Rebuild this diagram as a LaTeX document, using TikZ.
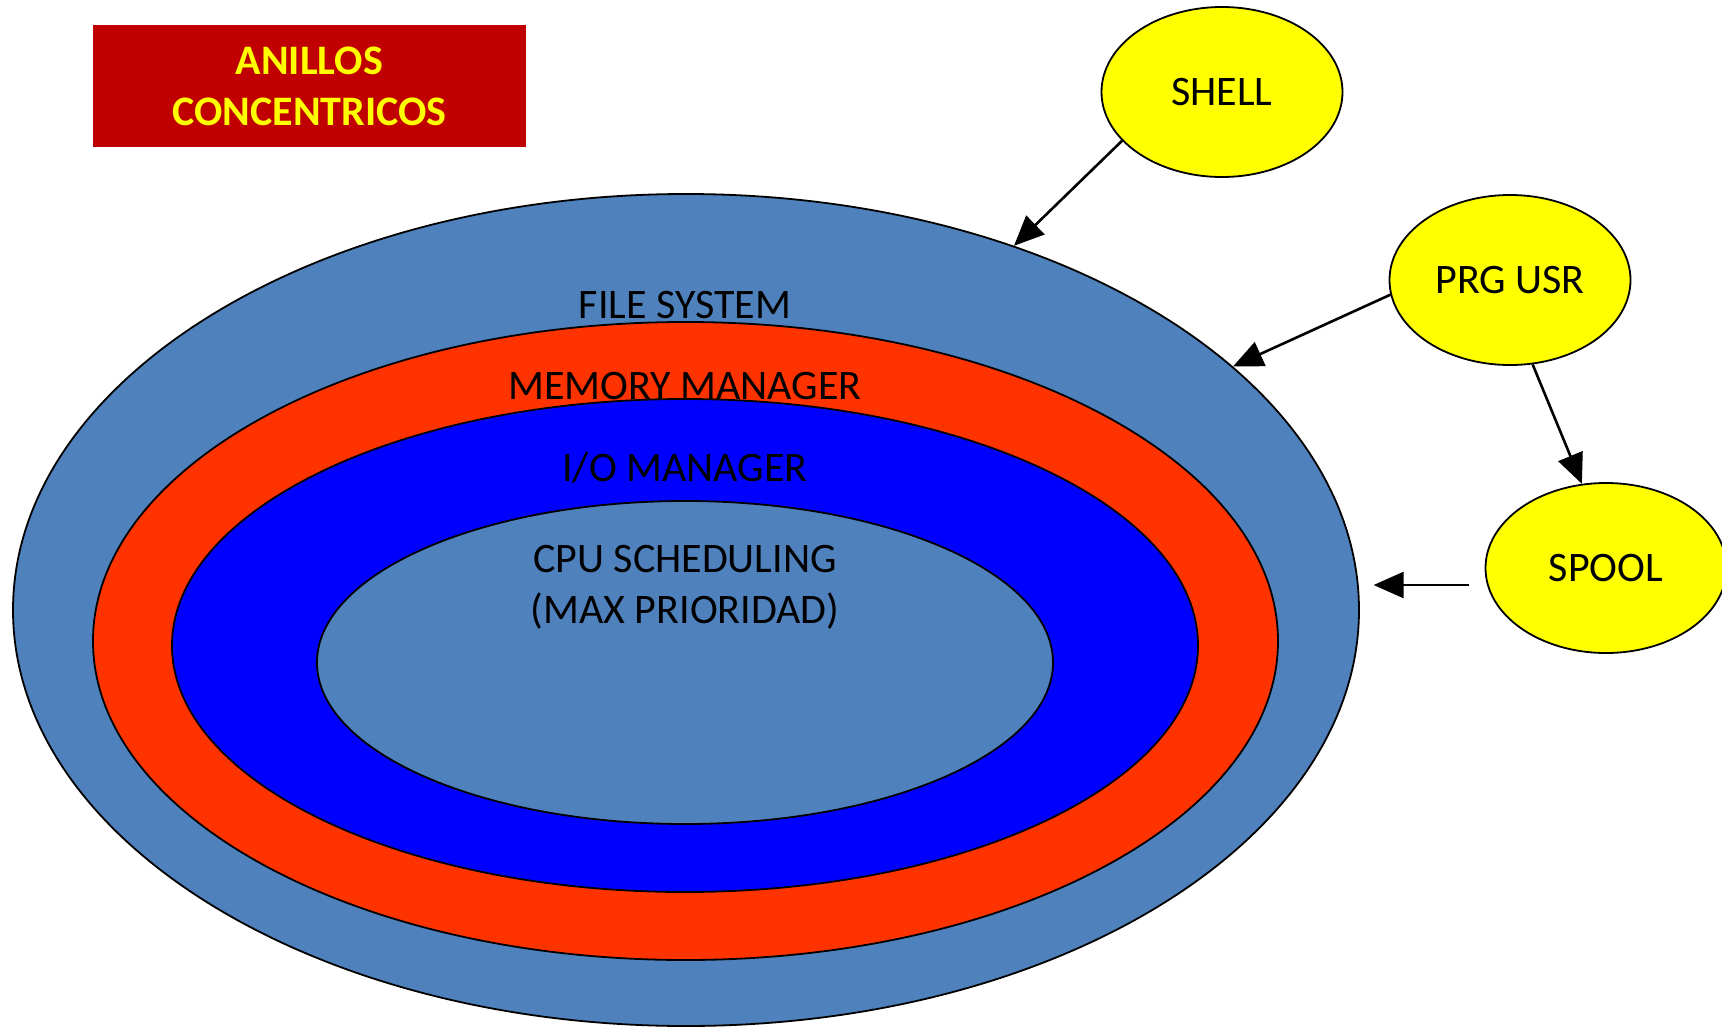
\documentclass[tikz,border=0pt]{standalone}
\usepackage{fontspec}
\setmainfont{Carlito}
\usetikzlibrary{shapes.geometric,arrows.meta}
\definecolor{steel}{HTML}{4F81BD}
\definecolor{ringred}{HTML}{FF3300}
\definecolor{ringblue}{HTML}{0000FF}
\definecolor{yel}{HTML}{FFFF00}
\definecolor{darkred}{HTML}{C00000}
\tikzset{
  ring/.style={ellipse, draw=black, line width=1.8pt, inner sep=0pt},
  bubble/.style={ellipse, draw=black, fill=yel, line width=1.8pt, inner sep=0pt,
    minimum width=241pt, minimum height=170pt, font=\fontsize{42pt}{51pt}\selectfont},
  lbl/.style={font=\fontsize{42pt}{51pt}\selectfont, inner sep=0pt, align=center},
  conn/.style={line width=2.6pt, -{Triangle[length=30pt,width=26pt]}},
}
\begin{document}
\begin{tikzpicture}[x=1pt,y=-1pt]
\useasboundingbox (0,0) rectangle (1722,1026);
% title
\node[fill=darkred, minimum width=433pt, minimum height=122pt, inner sep=0pt,
  text=yel, font=\fontsize{42pt}{51pt}\selectfont\bfseries, align=center]
  (title) at (309.5,86) {ANILLOS\\CONCENTRICOS};
% rings
\node[ring, fill=steel, minimum width=1346pt, minimum height=832pt] (fs) at (686,610) {};
\node[ring, fill=ringred, minimum width=1185pt, minimum height=638pt] (mm) at (685.5,641) {};
\node[ring, fill=ringblue, minimum width=1026pt, minimum height=493pt] (io) at (685,645.5) {};
\node[ring, fill=steel, minimum width=736pt, minimum height=323pt] (cpu) at (685,662.5) {};
% ring labels
\node[lbl] (tfs) at (685,305) {FILE SYSTEM};
\node[lbl] (tmm) at (685,386) {MEMORY MANAGER};
\node[lbl] (tio) at (685,468) {I/O MANAGER};
\node[lbl] (tcpu) at (685,587) {CPU SCHEDULING\\(MAX PRIORIDAD)};
% bubbles
\node[bubble] (shell) at (1222,92) {SHELL};
\node[bubble] (prg) at (1510,280) {PRG USR};
\node[bubble] (spool) at (1606,568) {SPOOL};
% connectors
\coordinate (spoolout) at ([xshift=-16pt,yshift=-17pt]spool.west);
\coordinate (ringin) at ([xshift=-95pt]spoolout);
\draw[conn] (shell.206) -- (fs.48.7);
\draw[conn] (prg.187) -- (fs.24.3);
\draw[conn] (prg.285.6) -- (spool.106);
\draw[conn] (spoolout) -- (ringin);
\end{tikzpicture}
\end{document}
